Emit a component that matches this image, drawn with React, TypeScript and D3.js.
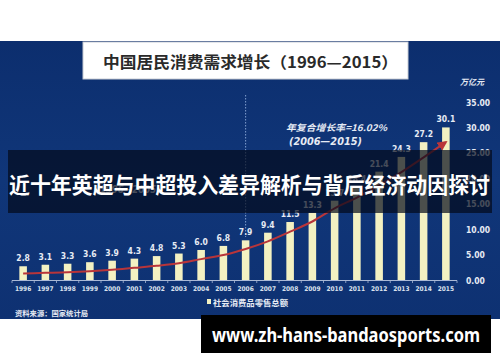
import React from 'react';
import * as d3 from 'd3';

const years = ['1996','1997','1998','1999','2000','2001','2002','2003','2004','2005','2006','2007','2008','2009','2010','2011','2012','2013','2014','2015'];
const retailSales = [2.8,3.1,3.3,3.6,3.9,4.3,4.8,5.3,6.0,6.8,7.9,9.4,11.5,13.3,15.7,18.4,21.4,24.3,27.2,30.1];
const trendLine = [1.4,1.5,1.6,1.8,2.1,2.5,2.9,3.4,4.2,5.0,6.2,7.7,9.6,11.6,14.2,16.3,18.7,21.3,24.2,27.2];
const yTicks = [0,5,10,15,20,25,30,35];

const W = 500, H = 362;
const NUM_FONT = "'Liberation Sans Narrow','DejaVu Sans Condensed','Liberation Sans',sans-serif";
const CJK = "'Noto Sans CJK SC','Noto Sans',sans-serif";

export default function App() {
  const x = d3.scaleBand<string>().domain(years).range([12, 457]).paddingInner(0.66).paddingOuter(0.33);
  const y = d3.scaleLinear().domain([0, 35]).range([280.5, 102.5]);
  const cx = (yr: string) => (x(yr) as number) + x.bandwidth() / 2;
  const line = d3.line<number>()
    .x((_, i) => cx(years[i]))
    .y((d) => y(d))
    .curve(d3.curveMonotoneX);
  const ticksX = d3.range(years.length + 1).map((i) => 12 + i * x.step());
  const txt = '#e6ebf4';

  return (
    <svg width={W} height={H} style={{ position: 'absolute', left: 0, top: 0, background: '#ffffff' }}>
      <defs>
        <marker id="arr" viewBox="0 0 10 10" refX="8" refY="5" markerWidth="5" markerHeight="5" orient="auto">
          <path d="M0,0 L10,5 L0,10 z" fill="#b8353a" />
        </marker>
        <linearGradient id="bg" x1="0" y1="0" x2="0" y2="1">
          <stop offset="0" stopColor="#0c2e6e" />
          <stop offset="0.5" stopColor="#103679" />
          <stop offset="1" stopColor="#0e3172" />
        </linearGradient>
      </defs>
      <rect x={0} y={41} width={W} height={278} fill="url(#bg)" />

      {/* title box */}
      <rect x={83} y={42} width={325} height={37} fill="#ffffff" stroke="#c8ccd4" strokeWidth={1} />
      <text x={103} y={68} fontFamily={CJK} fontWeight={700} fontSize={15.5} fill="#2a2a2a" textLength={295} lengthAdjust="spacingAndGlyphs">中国居民消费需求增长（1996—2015）</text>

      {/* unit */}
      <text x={460} y={85} fontFamily={CJK} fontStyle="italic" fontWeight={700} fontSize={8} fill={txt}>万亿元</text>

      {/* y axis labels */}
      {yTicks.map((t) => (
        <text key={t} x={466} y={y(t) + 3} fontFamily={NUM_FONT} fontWeight={700} fontSize={8.5} fill={txt}>{t.toFixed(2)}</text>
      ))}

      {/* dashed divider */}
      <line x1={cx('2006')} x2={cx('2006')} y1={95} y2={237} stroke="#9fbbe6" strokeWidth={0.8} strokeDasharray="1.5,1.5" />

      {/* bars */}
      {retailSales.map((v, i) => (
        <rect key={years[i]} x={x(years[i])} y={y(v)} width={x.bandwidth()} height={y(0) - y(v)} fill="#f3f1c2" />
      ))}
      {retailSales.map((v, i) => (
        <text key={'l' + years[i]} x={cx(years[i])} y={y(v) - 5} textAnchor="middle" fontFamily={NUM_FONT} fontWeight={700} fontSize={8.5} fill={txt}>{v.toFixed(1)}</text>
      ))}

      {/* axis */}
      <line x1={12} x2={457} y1={280.5} y2={280.5} stroke="#aab9d6" strokeWidth={1} />
      {ticksX.map((t, i) => (
        <line key={'t' + i} x1={t} x2={t} y1={280.5} y2={283} stroke="#aab9d6" strokeWidth={0.8} />
      ))}
      {years.map((yr) => (
        <text key={'y' + yr} x={cx(yr)} y={291} textAnchor="middle" fontFamily={NUM_FONT} fontWeight={700} fontSize={6.5} fill="#dbe2ee">{yr}</text>
      ))}

      {/* trend line */}
      <path d={line(trendLine) || ''} fill="none" stroke="#b8353a" strokeWidth={2} markerEnd="url(#arr)" />

      {/* annotations */}
      <text x={286} y={131} fontFamily={CJK} fontStyle="italic" fontWeight={700} fontSize={9} fill={txt} textLength={101} lengthAdjust="spacingAndGlyphs">年复合增长率=16.02%</text>
      <text x={289} y={145} fontFamily={NUM_FONT} fontStyle="italic" fontWeight={700} fontSize={10} fill={txt} textLength={73} lengthAdjust="spacingAndGlyphs">(2006—2015)</text>
      <text x={96} y={193} fontFamily={NUM_FONT} fontStyle="italic" fontWeight={700} fontSize={10} fill={txt} textLength={64} lengthAdjust="spacingAndGlyphs">(1996—2005)</text>

      {/* legend */}
      <rect x={207} y={299} width={4} height={5} fill="#f3f1c2" />
      <text x={213} y={306} fontFamily={CJK} fontWeight={700} fontSize={8.4} fill={txt} textLength={75} lengthAdjust="spacingAndGlyphs">社会消费品零售总额</text>

      {/* source */}
      <text x={15} y={316} fontFamily={CJK} fontWeight={700} fontSize={7.3} fill={txt} textLength={73} lengthAdjust="spacingAndGlyphs">资料来源：国家统计局</text>

      {/* banner overlay */}
      <rect x={8} y={150} width={484} height={63} fill="rgba(3,10,25,0.7)" />
      <text x={9} y={193} fontFamily={CJK} fontWeight={700} fontSize={21.5} fill="#ffffff" textLength={481} lengthAdjust="spacingAndGlyphs">近十年英超与中超投入差异解析与背后经济动因探讨</text>

      {/* watermark */}
      <rect x={201} y={315} width={290} height={38} fill="#000000" />
      <text x={212} y={342} fontFamily="'Noto Sans','Open Sans',sans-serif" fontWeight={700} fontSize={19} fill="#ffffff" textLength={268} lengthAdjust="spacingAndGlyphs">www.zh-hans-bandaosports.com</text>
    </svg>
  );
}
